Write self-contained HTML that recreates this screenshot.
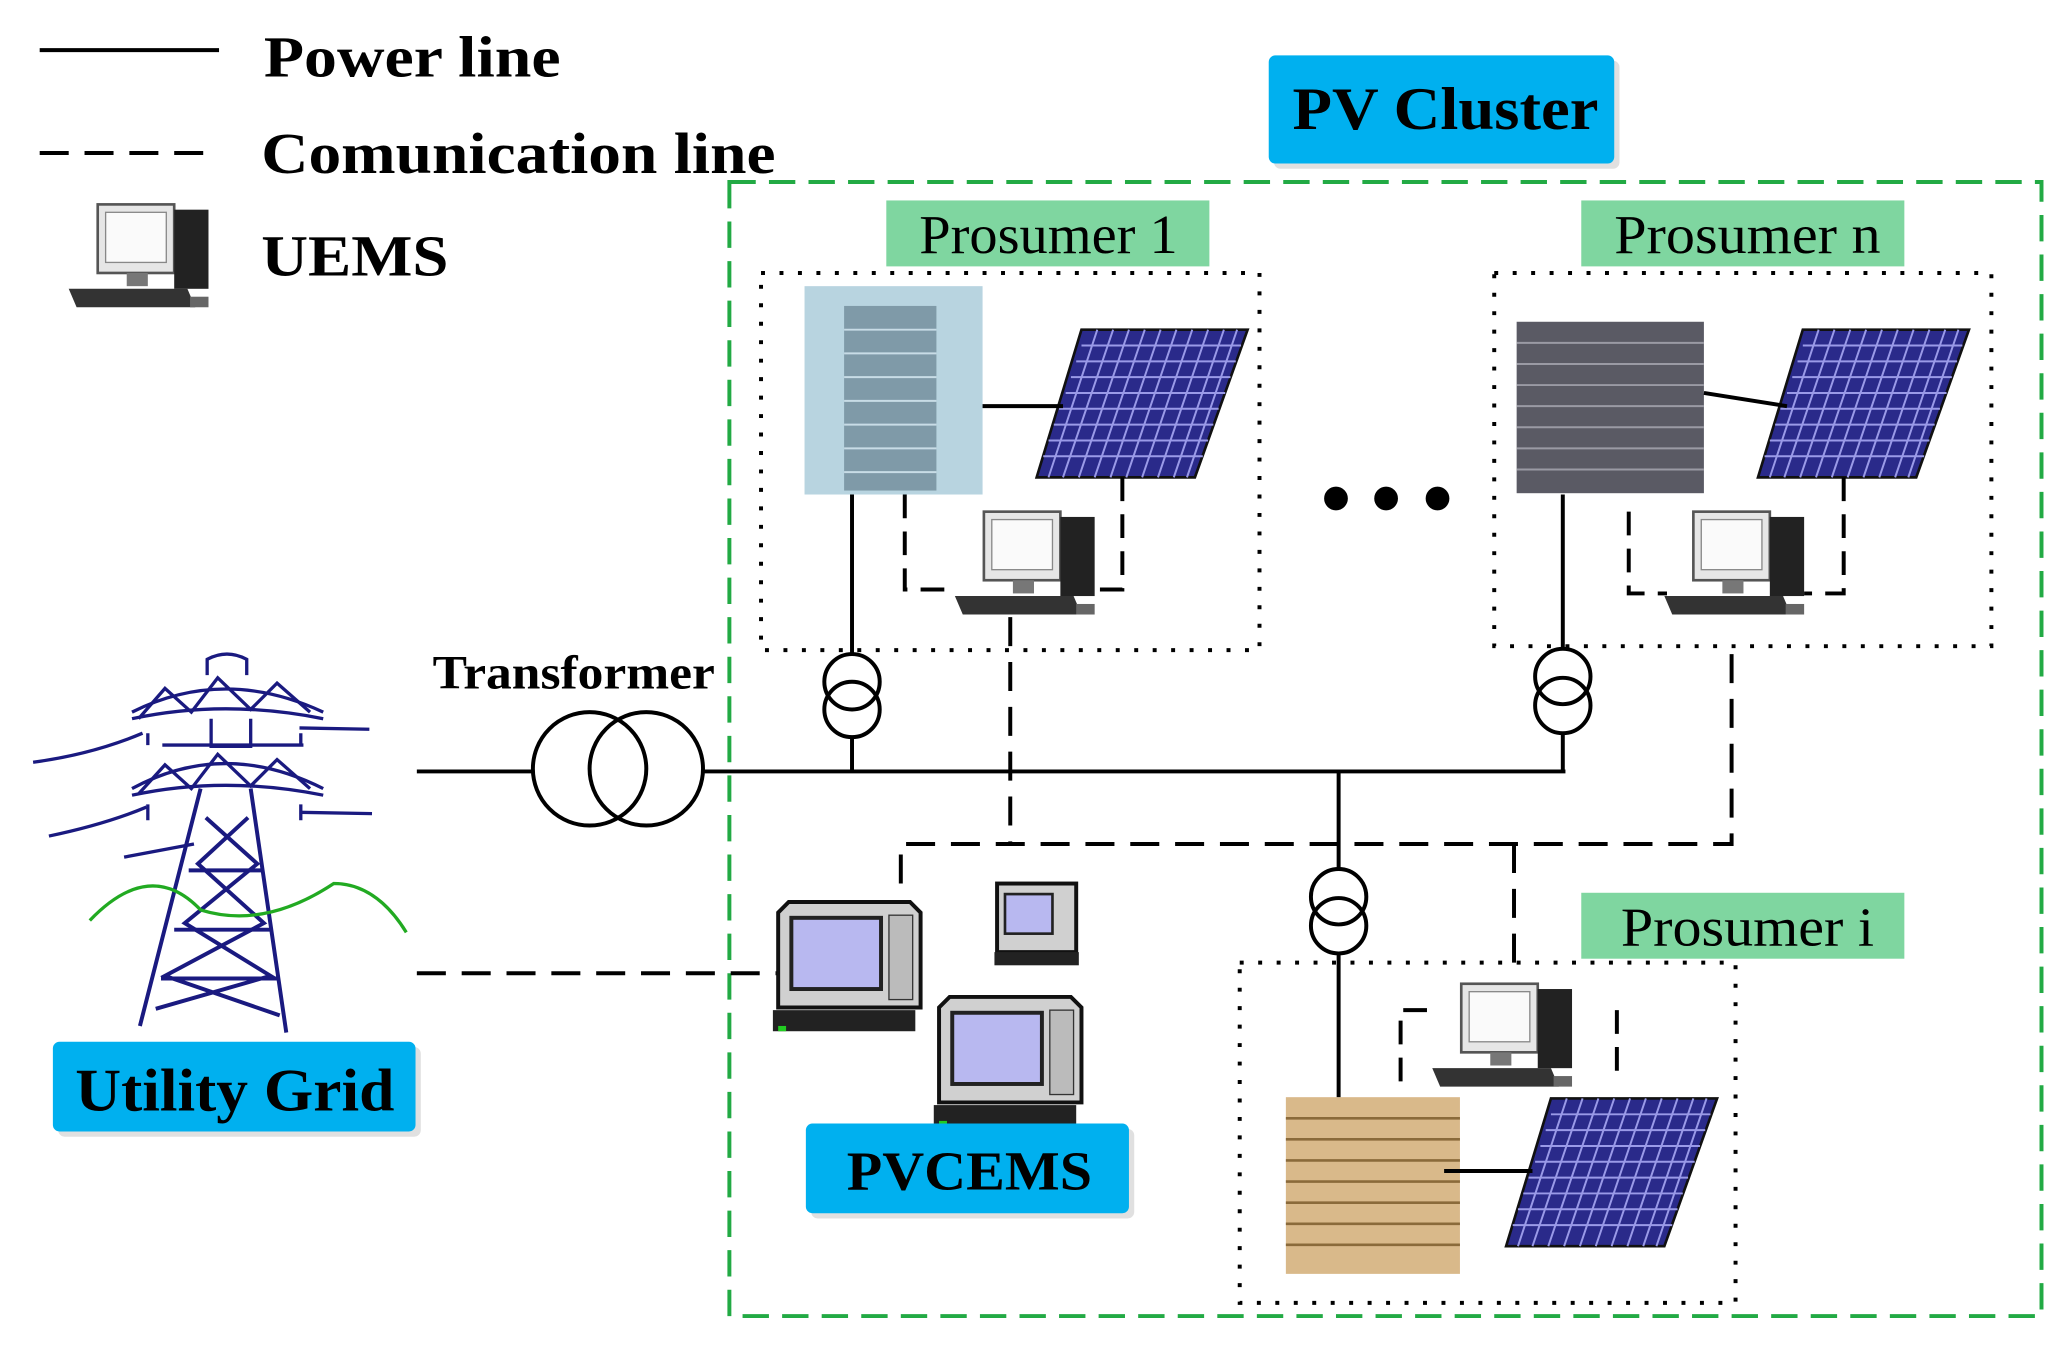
<!DOCTYPE html>
<html><head><meta charset="utf-8"><style>
html,body{margin:0;padding:0;background:#fff;}
svg{display:block;}
text{font-family:"Liberation Serif",serif;}
</style></head><body>
<svg width="2068" height="1353" viewBox="0 0 1568 1026" xmlns="http://www.w3.org/2000/svg">
<defs>
<g id="pc">
  <rect x="22" y="0" width="58" height="52" fill="#e6e6e6" stroke="#555" stroke-width="2"/>
  <rect x="28" y="6" width="46" height="38" fill="#fafafa" stroke="#888"/>
  <rect x="80" y="4" width="26" height="60" fill="#222"/>
  <rect x="44" y="52" width="16" height="10" fill="#777"/>
  <path d="M0 64 L90 64 L96 78 L6 78 Z" fill="#333"/>
  <rect x="92" y="70" width="14" height="8" fill="#666"/>
</g>
<g id="panel">
  <path d="M34 0 L160 0 L120 112 L0 112 Z" fill="#2a2a8a" stroke="#111" stroke-width="2"/>
  <g stroke="#9a9ae8" stroke-width="1.5" fill="none">
    <path d="M34 12 L155 12 M30 24 L151 24 M26 36 L147 36 M22 48 L143 48 M17 60 L138 60 M13 72 L134 72 M9 84 L130 84 M5 96 L126 96"/>
    <path d="M46 0 L9 112 M58 0 L20 112 M70 0 L32 112 M82 0 L44 112 M94 0 L56 112 M106 0 L68 112 M118 0 L80 112 M130 0 L92 112 M142 0 L104 112 M152 0 L114 112"/>
  </g>
</g>
<g id="crt">
  <path d="M8 0 L100 0 L108 8 L108 80 L0 80 L0 8 Z" fill="#d0d0d0" stroke="#111" stroke-width="3"/>
  <rect x="10" y="12" width="68" height="54" fill="#b8b8f0" stroke="#222" stroke-width="3"/>
  <rect x="84" y="10" width="18" height="64" fill="#bbb" stroke="#333"/>
  <rect x="-4" y="82" width="108" height="16" fill="#222"/>
  <rect x="0" y="94" width="6" height="4" fill="#2c2"/>
</g>
</defs>

<!-- legend -->
<line x1="30" y1="38" x2="166" y2="38" stroke="#000" stroke-width="3"/>
<text x="200" y="58" font-size="44" font-weight="bold" textLength="225" lengthAdjust="spacingAndGlyphs">Power line</text>
<line x1="30" y1="116" x2="166" y2="116" stroke="#000" stroke-width="3" stroke-dasharray="22,12"/>
<text x="198" y="131" font-size="44" font-weight="bold" textLength="390" lengthAdjust="spacingAndGlyphs">Comunication line</text>
<use href="#pc" x="52" y="155"/>
<text x="198" y="209" font-size="44" font-weight="bold" textLength="142" lengthAdjust="spacingAndGlyphs">UEMS</text>

<!-- cluster -->
<rect x="553" y="138" width="995" height="860" fill="none" stroke="#22aa44" stroke-width="3" stroke-dasharray="20,10"/>
<rect x="966" y="46" width="262" height="82" rx="5" fill="#ccc" opacity="0.6"/>
<rect x="962" y="42" width="262" height="82" rx="5" fill="#00b0ef"/>
<text x="980" y="98" font-size="46" font-weight="bold" textLength="232" lengthAdjust="spacingAndGlyphs">PV Cluster</text>

<!-- prosumer labels -->
<rect x="672" y="152" width="245" height="50" fill="#7fd6a0"/>
<text x="697" y="192" font-size="42" textLength="196" lengthAdjust="spacingAndGlyphs">Prosumer 1</text>
<rect x="1199" y="152" width="245" height="50" fill="#7fd6a0"/>
<text x="1224" y="192" font-size="42" textLength="202" lengthAdjust="spacingAndGlyphs">Prosumer n</text>
<rect x="1199" y="677" width="245" height="50" fill="#7fd6a0"/>
<text x="1229" y="717" font-size="42" textLength="192" lengthAdjust="spacingAndGlyphs">Prosumer i</text>

<!-- dotted boxes -->
<g fill="none" stroke="#000" stroke-width="3" stroke-dasharray="3,11">
<rect x="577" y="207" width="378" height="286"/>
<rect x="1133" y="207" width="377" height="283"/>
<rect x="940" y="730" width="376" height="258"/>
</g>

<!-- buildings -->
<rect x="610" y="217" width="135" height="158" fill="#b8d4e0"/>
<rect x="640" y="232" width="70" height="140" fill="#7f9aa8"/>
<g stroke="#c8dce6" stroke-width="1.5"><path d="M640 250h70M640 268h70M640 286h70M640 304h70M640 322h70M640 340h70M640 358h70"/></g>
<rect x="1150" y="244" width="142" height="130" fill="#5a5a64"/>
<g stroke="#9a9aa4" stroke-width="1.5"><path d="M1150 260h142M1150 276h142M1150 292h142M1150 308h142M1150 324h142M1150 340h142M1150 356h142"/></g>
<rect x="975" y="832" width="132" height="134" fill="#d9b98a"/>
<g stroke="#8a6a3a" stroke-width="2"><path d="M975 848h132M975 864h132M975 880h132M975 896h132M975 912h132M975 928h132M975 944h132"/></g>

<!-- panels -->
<use href="#panel" x="786" y="250"/>
<use href="#panel" x="1333" y="250"/>
<use href="#panel" x="1142" y="833"/>
<g stroke="#000" stroke-width="3">
<line x1="745" y1="308" x2="806" y2="308"/>
<line x1="1292" y1="298" x2="1355" y2="308"/>
<line x1="1095" y1="888" x2="1162" y2="888"/>
</g>

<!-- UEMS pcs -->
<use href="#pc" x="724" y="388"/>
<use href="#pc" x="1262" y="388"/>
<use href="#pc" x="1086" y="746"/>

<!-- dashed local -->
<g fill="none" stroke="#000" stroke-width="3" stroke-dasharray="18,10">
<path d="M686 375 L686 447 L726 447"/>
<path d="M851 362 L851 447 L828 447"/>
<path d="M1235 388 L1235 450 L1264 450"/>
<path d="M1398 362 L1398 450 L1368 450"/>
<path d="M1062 820 L1062 766 L1090 766"/>
<path d="M1226 766 L1226 820"/>
</g>

<!-- dots -->
<circle cx="1013" cy="378" r="9"/><circle cx="1051" cy="378" r="9"/><circle cx="1090" cy="378" r="9"/>

<!-- power -->
<g fill="none" stroke="#000" stroke-width="3">
<line x1="316" y1="585" x2="404" y2="585"/>
<line x1="533" y1="585" x2="1187" y2="585"/>
<circle cx="447" cy="583" r="43"/>
<circle cx="490" cy="583" r="43"/>
<line x1="646" y1="375" x2="646" y2="496"/>
<line x1="646" y1="558" x2="646" y2="585"/>
<circle cx="646" cy="517" r="21"/><circle cx="646" cy="538" r="21"/>
<line x1="1185" y1="375" x2="1185" y2="492"/>
<line x1="1185" y1="556" x2="1185" y2="585"/>
<circle cx="1185" cy="513" r="21"/><circle cx="1185" cy="535" r="21"/>
<line x1="1015" y1="585" x2="1015" y2="659"/>
<line x1="1015" y1="723" x2="1015" y2="832"/>
<circle cx="1015" cy="680" r="21"/><circle cx="1015" cy="702" r="21"/>
</g>
<text x="328" y="522" font-size="36" font-weight="bold" textLength="214" lengthAdjust="spacingAndGlyphs">Transformer</text>

<!-- comm -->
<g fill="none" stroke="#000" stroke-width="3" stroke-dasharray="22,12">
<path d="M766 468 L766 640"/>
<path d="M683 670 L683 640 L1313 640 L1313 490"/>
<path d="M1148 640 L1148 742"/>
<path d="M316 738 L592 738"/>
</g>

<!-- PVCEMS -->
<use href="#crt" x="590" y="684"/>
<rect x="756" y="670" width="60" height="52" fill="#d0d0d0" stroke="#111" stroke-width="3"/>
<rect x="762" y="678" width="36" height="30" fill="#b8b8f0" stroke="#222" stroke-width="2"/>
<rect x="754" y="722" width="64" height="10" fill="#222"/>
<use href="#crt" x="712" y="756"/>
<rect x="615" y="856" width="245" height="68" rx="5" fill="#ccc" opacity="0.6"/>
<rect x="611" y="852" width="245" height="68" rx="5" fill="#00b0ef"/>
<text x="642" y="902" font-size="42" font-weight="bold" textLength="186" lengthAdjust="spacingAndGlyphs">PVCEMS</text>

<!-- tower -->
<g fill="none" stroke="#1a1a80" stroke-width="2.5">
<path d="M25 578 Q70 572 108 556"/>
<path d="M37 634 Q80 625 111 612"/>
<path d="M94 650 L147 640"/>
<path d="M227 552 L280 553 M227 616 L282 617"/>
<path d="M100 540 Q170 505 245 540"/>
<path d="M100 545 Q170 530 245 545"/>
<path d="M105 545 L125 522 L145 540 L165 514 L190 538 L210 518 L235 540"/>
<path d="M100 598 Q170 560 245 598"/>
<path d="M100 603 Q170 588 245 603"/>
<path d="M105 602 L125 580 L145 598 L165 572 L190 596 L210 576 L235 598"/>
<path d="M157 512 L157 500 Q172 492 187 500 L187 512"/>
<path d="M160 545 L160 566 L190 566 L190 545"/>
<path d="M123 565 L230 565"/>
<path d="M112 556 L112 565 M228 556 L228 565 M112 610 L112 622 M228 610 L228 622"/>
</g>
<g fill="none" stroke="#1a1a80" stroke-width="3">
<path d="M152 598 L106 778 M190 598 L217 783"/>
<path d="M156 620 L195 655 L140 700 L205 740 L118 765 M188 620 L150 655 L200 700 L125 740 L212 770"/>
<path d="M143 660 L200 660 M132 705 L205 705 M122 742 L210 742"/>
</g>
<path d="M68 698 Q114 650 152 690 Q200 705 253 670 Q285 670 308 707" fill="none" stroke="#22aa22" stroke-width="2.5"/>

<!-- Utility grid -->
<rect x="44" y="794" width="275" height="68" rx="5" fill="#ccc" opacity="0.6"/>
<rect x="40" y="790" width="275" height="68" rx="5" fill="#00b0ef"/>
<text x="57" y="842" font-size="46" font-weight="bold" textLength="242" lengthAdjust="spacingAndGlyphs">Utility Grid</text>
</svg>
</body></html>
